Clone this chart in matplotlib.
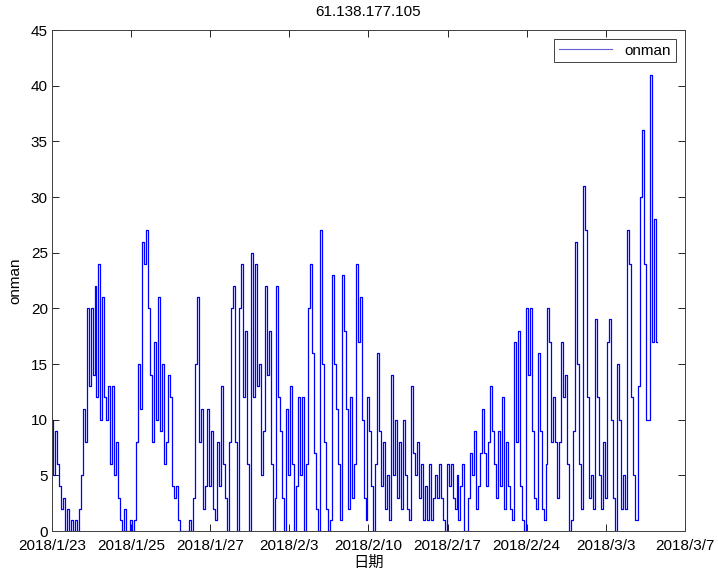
import numpy as np
import matplotlib
matplotlib.use('Agg')
import matplotlib.pyplot as plt

# Data ------------------------------------------------------------------------

TITLE = '61.138.177.105'

# online user count per sample
onman = [
    10, 5, 9, 6, 4, 2, 3, 0, 2, 0, 1, 0, 1, 0, 2, 5, 11, 8, 20, 13,
    20, 14, 22, 12, 24, 10, 21, 12, 10, 13, 6, 13, 5, 8, 3, 1, 0, 2, 0, 0,
    1, 0, 1, 8, 15, 11, 26, 24, 27, 20, 14, 8,
    17, 10, 21, 9, 15, 6, 8, 14, 12, 4, 3, 4, 1, 0, 0, 0, 0, 0, 1, 0,
    3, 15, 21, 8, 11, 2, 4, 11, 4, 9, 2, 1, 8, 4, 13, 6, 3, 0, 8, 20,
    22, 8, 0, 20, 24, 12, 18, 6, 0, 25, 12,
    24, 13, 15, 5, 9, 22, 14, 18, 6, 0, 3, 22, 12, 9, 3, 0, 11, 5, 13, 6,
    0, 4, 12, 5, 12, 0, 6, 20, 24, 16, 7, 2, 0, 27, 15, 8, 2, 0, 1, 23,
    15, 11, 6, 1, 23, 18, 11, 2,
    12, 3, 6, 24, 17, 21, 10, 3, 1, 12, 9, 4, 0, 6, 16, 9, 4, 8, 2, 5,
    1, 14, 5, 10, 3, 8, 2, 10, 5, 2, 1, 13, 7, 5, 8, 3, 6, 1, 4, 1,
    6, 1, 3, 5, 3, 6, 3, 1, 0, 6, 4, 6, 3,
    2, 5, 1, 4, 6, 0, 0, 3, 7, 5, 9, 2, 4, 7, 11, 7, 4,
    8, 13, 9, 6, 3, 9, 4, 12, 2, 8, 4, 2, 1, 17, 8, 18, 4, 1, 0, 20,
    14, 20, 9, 3, 2, 16, 9, 2, 1, 6, 20, 17, 8, 12,
    8, 3, 8, 17, 12, 14, 6, 0, 1, 9, 26, 15, 6, 2, 31, 27, 12, 3, 5, 2,
    19, 12, 5, 2, 8, 3, 17, 19, 10, 3, 0, 15, 10, 2, 5, 2, 27, 24, 12, 5,
    1, 1, 13, 30, 36, 24, 10, 10, 41, 17, 28, 17,
]

date_labels = ['2018/1/23', '2018/1/25', '2018/1/27', '2018/2/3', '2018/2/10',
               '2018/2/17', '2018/2/24', '2018/3/3', '2018/3/7']

X_MAX = 320  # samples spanned by the axis

# Plot ------------------------------------------------------------------------

plt.rcParams['font.family'] = ['Liberation Sans', 'Noto Sans CJK SC', 'DejaVu Sans']
plt.rcParams['font.size'] = 11

fig = plt.figure(figsize=(7.18, 5.74), dpi=100)
ax = fig.add_axes([0.0724, 0.0749, 0.8816, 0.8728])

x = np.arange(len(onman))
ax.plot(x, onman, color='#0000ff', linewidth=0.9, drawstyle='steps-mid',
        label='onman')

ax.set_xlim(0, X_MAX)
ax.set_ylim(0, 45)
ax.set_xticks(np.linspace(0, X_MAX, len(date_labels)))
ax.set_xticklabels(date_labels)
ax.set_yticks(np.arange(0, 46, 5))

ax.tick_params(direction='in', top=True, right=True, length=5, width=0.6,
               labelsize=11, pad=3)
ax.tick_params(axis='x', pad=6)
for s in ax.spines.values():
    s.set_linewidth(0.7)
    s.set_color('#404040')

ax.set_title(TITLE, fontsize=11, pad=10)
ax.set_xlabel('日期', fontsize=11, labelpad=2)
ax.set_ylabel('onman', fontsize=11, labelpad=6)

leg = ax.legend(loc='upper right', fontsize=11, fancybox=False, framealpha=1,
                borderaxespad=0.6, handlelength=3.5, borderpad=0.3)
leg.get_frame().set_edgecolor('#404040')
leg.get_frame().set_linewidth(0.7)
leg.get_lines()[0].set_linewidth(0.8)
leg.get_lines()[0].set_color('#6060d0')

fig.savefig('out.png', dpi=100)
